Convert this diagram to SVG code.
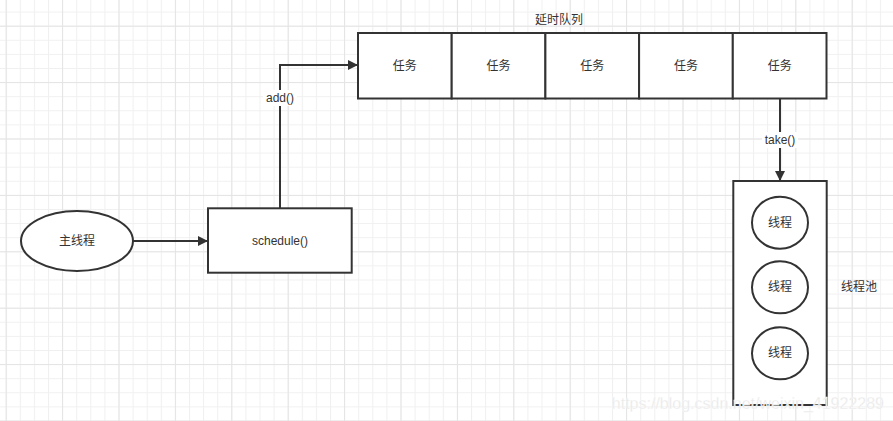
<svg xmlns="http://www.w3.org/2000/svg" width="893" height="421" viewBox="0 0 893 421">
<defs>
<pattern id="minor" x="5.7" y="11.6" width="14.1" height="14.1" patternUnits="userSpaceOnUse">
<path d="M0 0.5H14.1M0.5 0V14.1" fill="none" stroke="#f0f0f0" stroke-width="1"/>
</pattern>
<pattern id="major" x="5.7" y="25.7" width="56.4" height="56.4" patternUnits="userSpaceOnUse">
<path d="M0 0.5H56.4M0.5 0V56.4" fill="none" stroke="#e4e4e4" stroke-width="1"/>
</pattern>
<marker id="arr" markerWidth="10" markerHeight="10" refX="9" refY="5" orient="auto" markerUnits="userSpaceOnUse" viewBox="0 0 10 10">
<path d="M0 0L10 5L0 10Z" fill="#333"/>
</marker>
<style>
.s{fill:#fff;stroke:#333;stroke-width:2}
.t{font-family:"Liberation Sans","Noto Sans CJK SC",sans-serif;font-size:12px;fill:#333;text-anchor:middle;dominant-baseline:central}
.c{fill:none;stroke:#333;stroke-width:2}
.lb{fill:#fff}
</style>
</defs>
<rect width="893" height="421" fill="#fff"/>
<rect width="893" height="421" fill="url(#minor)"/>
<rect width="893" height="421" fill="url(#major)"/>
<text class="t" x="559" y="20">延时队列</text>
<g id="queue">
<g id="task1"><rect class="s" x="358" y="33" width="93.7" height="65.5"/><text class="t" x="404.8" y="65.5">任务</text></g>
<g id="task2"><rect class="s" x="451.7" y="33" width="93.7" height="65.5"/><text class="t" x="498.5" y="65.5">任务</text></g>
<g id="task3"><rect class="s" x="545.4" y="33" width="93.7" height="65.5"/><text class="t" x="592.2" y="65.5">任务</text></g>
<g id="task4"><rect class="s" x="639.1" y="33" width="93.7" height="65.5"/><text class="t" x="686" y="65.5">任务</text></g>
<g id="task5"><rect class="s" x="732.8" y="33" width="93.7" height="65.5"/><text class="t" x="779.7" y="65.5">任务</text></g>
</g>
<g id="main"><ellipse class="s" cx="77" cy="241" rx="56" ry="30"/><text class="t" x="77" y="241">主线程</text></g>
<g id="schedule"><rect class="s" x="208" y="208.3" width="143.7" height="64.4"/><text class="t" x="280" y="241">schedule()</text></g>
<g id="pool"><rect class="s" x="733.3" y="181" width="93.4" height="224"/>
<g id="thread1"><ellipse class="s" cx="780" cy="222.7" rx="28" ry="26"/><text class="t" x="780" y="222.7">线程</text></g>
<g id="thread2"><ellipse class="s" cx="780" cy="287.3" rx="28" ry="26"/><text class="t" x="780" y="287.3">线程</text></g>
<g id="thread3"><ellipse class="s" cx="780" cy="353.3" rx="28" ry="26"/><text class="t" x="780" y="353.3">线程</text></g>
</g>
<text class="t" x="859" y="287">线程池</text>
<g id="connectors">
<path class="c" d="M133 241H207" marker-end="url(#arr)"/>
<path class="c" d="M280 208.3V65H357" marker-end="url(#arr)"/>
<rect class="lb" x="263" y="90" width="34" height="16"/>
<text class="t" x="280" y="98">add()</text>
<path class="c" d="M780 98.5V180" marker-end="url(#arr)"/>
<rect class="lb" x="762" y="132" width="36" height="16"/>
<text class="t" x="780" y="140">take()</text>
</g>
<text x="884" y="409" text-anchor="end" font-family="Liberation Sans, sans-serif" font-size="16" fill="#e8e8e8" stroke="#fff" stroke-width="0.3">https://blog.csdn.net/weixin_41922289</text>
</svg>
